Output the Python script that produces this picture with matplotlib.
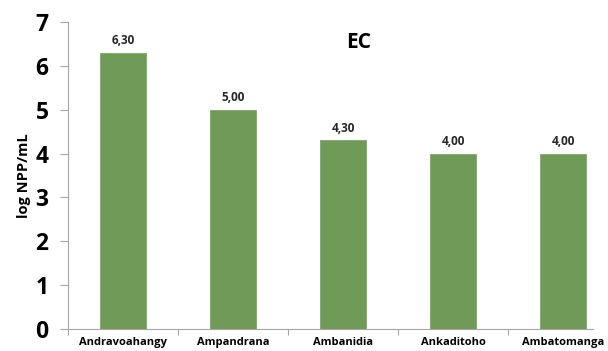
import matplotlib
matplotlib.use("Agg")
import matplotlib.pyplot as plt

sites = ["Andravoahangy", "Ampandrana", "Ambanidia", "Ankaditoho", "Ambatomanga"]
log_npp = [6.30, 5.00, 4.30, 4.00, 4.00]
value_labels = ["6,30", "5,00", "4,30", "4,00", "4,00"]
yticks = [0, 1, 2, 3, 4, 5, 6, 7]

BAR_COLOR = "#6F9A57"
AXIS_COLOR = "#A6A6A6"

plt.rcParams["font.family"] = ["Open Sans", "DejaVu Sans"]

fig = plt.figure(figsize=(6.08, 3.51), dpi=100)
ax = fig.add_axes([68 / 608, 22 / 351, 525 / 608, 307 / 351])

x = list(range(len(sites)))
bars = ax.bar(x, log_npp, width=0.41, color=BAR_COLOR, edgecolor="#7DA866", linewidth=0.6, zorder=2)

for xi, v, lab in zip(x, log_npp, value_labels):
    ax.annotate(lab, (xi, v), xytext=(0, 4), textcoords="offset points",
                ha="center", va="bottom", fontsize=8.5, fontweight="bold", color="#262626")

ax.set_xlim(-0.5, -0.5 + 525 / 110)
ax.set_ylim(0, 7)
ax.set_yticks(yticks)
ax.set_yticklabels([str(t) for t in yticks], fontsize=16.5, fontweight="bold")

# category labels, ticks on the category borders
ax.set_xticks(x)
ax.set_xticklabels(sites, fontsize=8, fontweight="bold")
ax.tick_params(axis="x", length=0, pad=6)
ax.set_xticks([i - 0.5 for i in range(len(sites))], minor=True)
ax.tick_params(axis="x", which="minor", length=4, color=AXIS_COLOR, width=0.8)
ax.tick_params(axis="y", length=6, color=AXIS_COLOR, width=0.8, pad=8)

for s in ["top", "right"]:
    ax.spines[s].set_visible(False)
for s in ["left", "bottom"]:
    ax.spines[s].set_color(AXIS_COLOR)
    ax.spines[s].set_linewidth(0.8)

ax.set_ylabel("log NPP/mL", fontsize=10.5, fontweight="bold", labelpad=3)
ax.text(359 / 608, 1 - 42 / 351, "EC", transform=fig.transFigure,
        ha="center", va="center", fontsize=15, fontweight="bold")

fig.savefig("out.png", dpi=100)
